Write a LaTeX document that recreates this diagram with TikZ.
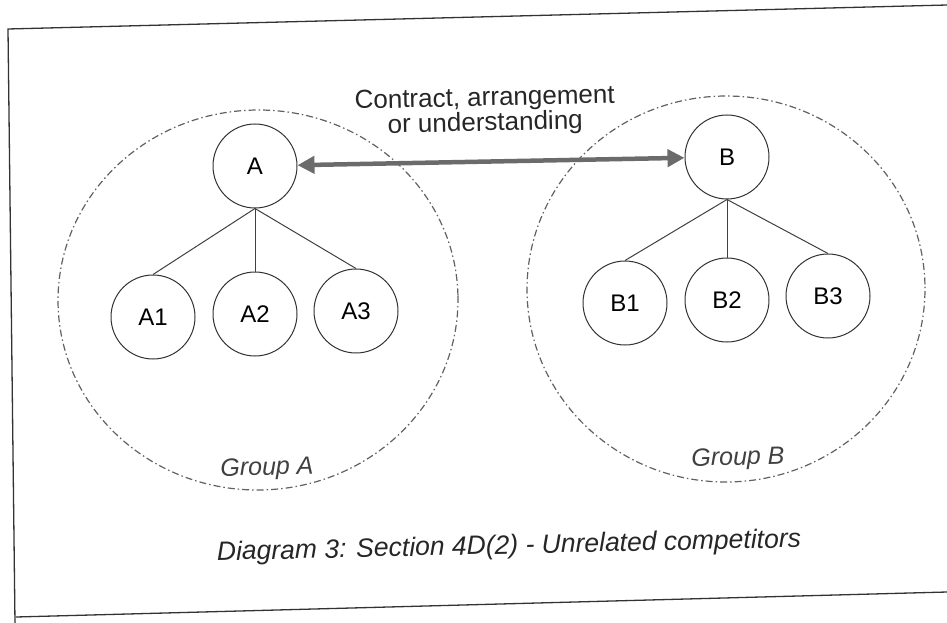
\documentclass[tikz,border=0pt]{standalone}
\usepackage{fontspec}
\setmainfont{Liberation Sans}
\usetikzlibrary{arrows.meta,shapes.geometric}
\tikzset{
  firm/.style={circle,draw=black!80,line width=1pt,minimum size=84pt,inner sep=0pt,font=\fontsize{24}{24}\selectfont},
  group/.style={ellipse,draw=black!62,line width=1.2pt,dash pattern=on 7pt off 3pt on 1.5pt off 3pt,inner sep=0pt},
  tie/.style={draw=black!75,line width=1pt},
  contract/.style={{Triangle[length=17pt,width=17pt]}-{Triangle[length=17pt,width=17pt]},draw=black!58,line width=4.5pt},
  lbl/.style={font=\fontsize{26}{25}\selectfont,text=black!85,rotate=1.3},
  grp/.style={font=\fontsize{25}{25}\selectfont\itshape,text=black!75,rotate=1.3},
}
\begin{document}
\begin{tikzpicture}[x=1pt,y=-1pt]
\useasboundingbox (0,0) rectangle (947,623);
% frame
\draw[black!80,line width=1.3pt] (947,5) -- (8,29) -- (15,623);
\draw[black!80,line width=1.3pt] (16,617) -- (947,592);
% groups
\node[group,minimum width=400pt,minimum height=380pt,rotate=1.3] (groupa) at (258,300) {};
\node[group,minimum width=398pt,minimum height=386pt,rotate=1.3] (groupb) at (726,289) {};
\node[grp] (labela) at (267,469) {Group A};
\node[grp] (labelb) at (738,459) {Group B};
% firms
\node[firm] (a) at (255,166) {A};
\node[firm] (a1) at (153,317) {A1};
\node[firm] (a2) at (255,314) {A2};
\node[firm] (a3) at (356,311) {A3};
\node[firm] (b) at (727,157) {B};
\node[firm] (b1) at (625,303) {B1};
\node[firm] (b2) at (727,300) {B2};
\node[firm] (b3) at (828,296) {B3};
\foreach \c in {a1,a2,a3} {\draw[tie] (a.south) -- (\c.north);}
\foreach \c in {b1,b2,b3} {\draw[tie] (b.south) -- (\c.north);}
% agreement
\draw[contract] (a) -- (b);
\node[lbl,align=center] (deal) at (485,112) {Contract, arrangement\\or understanding};
\node[lbl,font=\fontsize{26.5}{26.5}\selectfont\itshape] (caption) at (509,547) {Diagram 3: Section 4D(2) - Unrelated competitors};
\end{tikzpicture}
\end{document}
